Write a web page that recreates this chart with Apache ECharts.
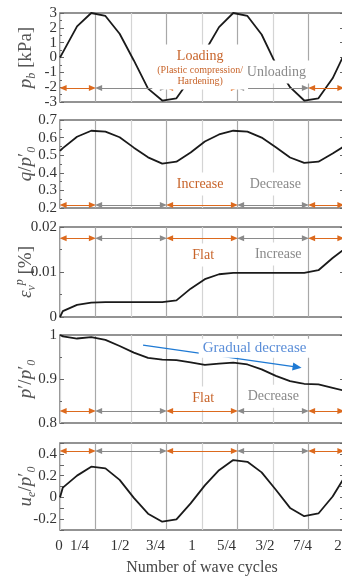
<!DOCTYPE html>
<html><head><meta charset="utf-8">
<script src="https://cdn.jsdelivr.net/npm/echarts@6/dist/echarts.min.js"></script>
<style>html,body{margin:0;padding:0;background:#fff}#c{width:342px;height:576px}</style>
</head><body><div id="c"></div><script>
// ---- data ----
const cycles = [0,0.02,0.12,0.22,0.32,0.42,0.52,0.62,0.72,0.82,0.92,1.02,1.12,1.22,1.32,1.42,1.52,1.62,1.72,1.82,1.92,2.02];
const pb     = [0,0.35,2.1,3.0,2.8,1.6,-0.2,-2.1,-2.9,-2.75,-1.4,0.4,2.05,3.0,2.8,1.55,-0.45,-2.0,-2.9,-2.75,-1.4,0.6];
const qRatio = [0.524,0.54,0.605,0.639,0.634,0.602,0.543,0.488,0.452,0.463,0.515,0.578,0.618,0.639,0.634,0.600,0.545,0.487,0.456,0.463,0.51,0.56];
const epsVp  = [0,0.0013,0.0027,0.0032,0.0033,0.0033,0.0033,0.0033,0.0033,0.0037,0.0063,0.0084,0.0095,0.0098,0.0098,0.0098,0.0098,0.0098,0.0098,0.0104,0.0131,0.0155];
const pRatio = [1.0,0.997,0.992,0.995,0.989,0.975,0.96,0.948,0.944,0.943,0.938,0.932,0.935,0.937,0.933,0.922,0.907,0.895,0.889,0.888,0.880,0.872];
const ueRatio= [0,0.09,0.2,0.282,0.267,0.161,-0.005,-0.15,-0.224,-0.203,-0.055,0.11,0.25,0.343,0.327,0.23,0.07,-0.097,-0.173,-0.148,0.008,0.22];
const xTickLabels = ['0','1/4','1/2','3/4','1','5/4','3/2','7/4','2'];
const phaseBounds = [0,0.25,0.75,1.25,1.75,2];
const phaseKinds  = ['load','unload','load','unload','load'];
const arrowLevels = [-2.05,0.217,0.0175,0.827,0.427];
const phaseTexts = [
  [{x:1.524,y:-0.98,kind:'unload',t:'{a|Unloading}'},{x:0.987,y:-0.64,kind:'load',t:'{a|Loading}\n{b|(Plastic compression/}\n{b|Hardening)}'}],
  [{x:0.987,y:0.336,kind:'load',t:'{a|Increase}'},{x:1.516,y:0.336,kind:'unload',t:'{a|Decrease}'}],
  [{x:1.008,y:0.0138,kind:'load',t:'{a|Flat}'},{x:1.537,y:0.014,kind:'unload',t:'{a|Increase}'}],
  [{x:1.008,y:0.857,kind:'load',t:'{a|Flat}'},{x:1.502,y:0.861,kind:'unload',t:'{a|Decrease}'}],
  []
];
const trendArrow = {from:[0.585,0.977], to:[1.67,0.927], text:'Gradual decrease', textAt:[1.37,0.970]};

// ---- styling ----
const ORANGE='#DC6A1E', GRAY='#8a8a8a', BLUE='#1f7ad4';
const FONT='Liberation Serif';
const tops=[13,120,227,335,443], heights=[89,88,90,88,87];
const yRanges=[[-3,3,1],[0.2,0.7,0.1],[0,0.02,0.01],[0.8,1,0.1],[-0.3,0.5,0.1]];
const seriesData=[pb,qRatio,epsVp,pRatio,ueRatio];
const names=[
  '{i|p}{sub|b}{n| [kPa]}',
  '{i|q}{n|/}{i|p}{n|′}{sub|0}',
  '{i|ε}{sub|v}{sup|p}{n| [%]}',
  '{i|p}{n|′/}{i|p}{n|′}{sub|0}',
  '{i|u}{sub|e}{n|/}{i|p}{n|′}{sub|0}'
];
const labelShift=[-1,-16,-11,-11,-10,-11,-8,-6,-6];
const nameRich={
  i:{fontFamily:FONT,fontStyle:'italic',fontSize:19,lineHeight:24,color:'#555'},
  n:{fontFamily:FONT,fontSize:19,lineHeight:24,color:'#555'},
  sub:{fontFamily:FONT,fontStyle:'italic',fontSize:12,lineHeight:12,verticalAlign:'bottom',color:'#555'},
  sup:{fontFamily:FONT,fontStyle:'italic',fontSize:12,lineHeight:12,verticalAlign:'top',color:'#555'}
};
const xRich={};
labelShift.forEach((s,k)=>{ xRich['l'+k]={fontFamily:FONT,fontSize:15,color:'#333',padding:[0,s<0?-2*s:0,0,s>0?2*s:0]}; });

const grid=[],xAxis=[],yAxis=[],series=[];
for(let p=0;p<5;p++){
  grid.push({left:60,width:284,top:tops[p],height:heights[p],show:true,borderColor:'#707070',borderWidth:1.5,
    containLabel:false,outerBoundsMode:'none'});
  const last=p===4;
  xAxis.push({type:'value',gridIndex:p,min:0,max:2,interval:0.25,
    axisLine:{show:false},axisTick:{show:false},
    splitLine:{show:true,lineStyle:{color:['#d4d4d4','#a8a8a8'],width:1.2}},
    axisLabel:{show:last,margin:9,alignMinLabel:'center',alignMaxLabel:'center',hideOverlap:false,
      formatter:v=>{const k=Math.round(v*4);return '{l'+k+'|'+xTickLabels[k]+'}';},rich:xRich},
    name:last?'Number of wave cycles':'',nameLocation:'middle',nameGap:30,nameMoveOverlap:false,
    nameTextStyle:{fontFamily:FONT,fontSize:16,color:'#444'}
  });
  const [mn,mx,iv]=yRanges[p];
  const fmt = p===4 ? (v=>{const k=Math.round(v*10);return k%2===0?String(k/10):'';})
            : (v=>String(+v.toFixed(3)));
  yAxis.push({type:'value',gridIndex:p,min:mn,max:mx,interval:iv,
    axisLine:{show:false},splitLine:{show:false},
    axisTick:{show:true,inside:true,length:4,lineStyle:{color:'#666'}},
    minorTick:{show:p!==4,splitNumber:2,length:2,lineStyle:{color:'#666'}},
    axisLabel:{fontFamily:FONT,fontSize:15,color:'#333',margin:3,formatter:fmt},
    name:names[p],nameLocation:'middle',nameGap:22,nameMoveOverlap:false,
    nameTextStyle:{rich:nameRich}
  });
  yAxis.push({type:'value',gridIndex:p,min:mn,max:mx,interval:iv,position:'right',
    axisLine:{show:false},splitLine:{show:false},axisLabel:{show:false},
    axisTick:{show:true,inside:true,length:4,lineStyle:{color:'#666'}},
    minorTick:{show:p!==4,splitNumber:2,length:2,lineStyle:{color:'#666'}}
  });
  // phase arrows
  const lv=arrowLevels[p];
  const mlData=[];
  for(let s=0;s<phaseKinds.length;s++){
    const c=phaseKinds[s]==='load'?ORANGE:GRAY;
    mlData.push([{coord:[phaseBounds[s]+0.022,lv],lineStyle:{color:c,width:1,type:'solid'},itemStyle:{color:c}},
                 {coord:[phaseBounds[s+1]-0.022,lv]}]);
  }
  if(p===3){
    mlData.push([{coord:trendArrow.from,symbol:'none',lineStyle:{color:BLUE,width:1.5,type:'solid'},itemStyle:{color:BLUE}},
                 {coord:trendArrow.to,symbol:'triangle',symbolSize:[8,9]}]);
  }
  const mpData=phaseTexts[p].map(o=>({coord:[o.x,o.y],
    label:{show:true,position:'inside',formatter:o.t,backgroundColor:'#fff',padding:[3,5],lineHeight:12,
      rich:{a:{fontFamily:FONT,fontSize:14,lineHeight:17,color:o.kind==='load'?'#C8642A':'#8a8a8a'},
            b:{fontFamily:FONT,fontSize:10,lineHeight:11,color:'#C8642A'}}}}));
  if(p===3){
    mpData.push({coord:trendArrow.textAt,label:{show:true,position:'inside',formatter:trendArrow.text,
      backgroundColor:'#fff',padding:[2,4],fontFamily:FONT,fontSize:15,color:'#5b8ed8'}});
  }
  series.push({type:'line',xAxisIndex:p,yAxisIndex:2*p,data:cycles.map((c,i)=>[c,seriesData[p][i]]),
    showSymbol:false,lineStyle:{color:'#1a1a1a',width:1.8},itemStyle:{color:'#1a1a1a'},clip:true,silent:true,
    markLine:{silent:true,symbol:['triangle','triangle'],symbolSize:[6,7],label:{show:false},emphasis:{disabled:true},data:mlData,animation:false},
    markPoint:{silent:true,symbol:'rect',symbolSize:0,data:mpData,animation:false}
  });
}
const chart=echarts.init(document.getElementById('c'),null,{renderer:'canvas'});
chart.setOption({animation:false,grid,xAxis,yAxis,series});
</script></body></html>
